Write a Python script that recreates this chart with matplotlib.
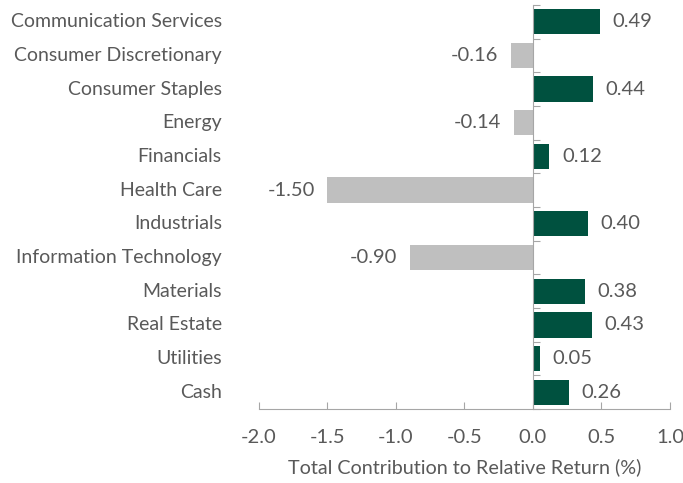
import matplotlib.pyplot as plt
import numpy as np

# data
sectors = ["Communication Services", "Consumer Discretionary", "Consumer Staples",
           "Energy", "Financials", "Health Care", "Industrials",
           "Information Technology", "Materials", "Real Estate", "Utilities", "Cash"]
contrib = [0.49, -0.16, 0.44, -0.14, 0.12, -1.50, 0.40, -0.90, 0.38, 0.43, 0.05, 0.26]
xticks = [-2.0, -1.5, -1.0, -0.5, 0.0, 0.5, 1.0]

green = "#00513F"
grey = "#BFBFBF"
txt = "#595959"
axcol = "#A6A6A6"

plt.rcParams['font.family'] = ['Lato', 'DejaVu Sans']

fig = plt.figure(figsize=(6.83, 4.83), dpi=100)
ax = fig.add_axes([0.379, 0.153, 0.602, 0.837])

y = np.arange(len(sectors))
colors = [green if v >= 0 else grey for v in contrib]
ax.barh(y, contrib, height=0.75, color=colors, zorder=2)

for yi, v in zip(y, contrib):
    if v >= 0:
        ax.annotate(f"{v:.2f}", (v, yi), xytext=(9, 0), textcoords="offset points",
                    ha="left", va="center", fontsize=14.5, color=txt)
    else:
        ax.annotate(f"{v:.2f}", (v, yi), xytext=(-9, 0), textcoords="offset points",
                    ha="right", va="center", fontsize=14.5, color=txt)

ax.set_ylim(len(sectors) - 0.5, -0.5)
ax.set_xlim(-2.0, 1.0)

# category labels at the left edge
for yi, name in zip(y, sectors):
    ax.text(-0.09, yi, name, transform=ax.get_yaxis_transform(), ha="right",
            va="center", fontsize=14, color=txt)

# vertical axis at zero with ticks between categories
ax.spines['left'].set_position(('data', 0))
ax.spines['left'].set_color(axcol)
ax.spines['right'].set_visible(False)
ax.spines['top'].set_visible(False)
ax.spines['bottom'].set_color(axcol)
ax.set_yticks(np.arange(-0.5, len(sectors), 1.0))
ax.set_yticklabels([])
ax.tick_params(axis='y', direction='in', length=5, color=axcol)

ax.set_xticks(xticks)
ax.set_xticklabels([f"{t:.1f}" for t in xticks])
ax.tick_params(axis='x', direction='in', length=5, color=axcol, labelsize=14.5,
               labelcolor=txt, pad=14)
ax.set_xlabel("Total Contribution to Relative Return (%)", fontsize=14.2, color=txt,
              labelpad=9)

fig.savefig("out.png", dpi=100)
